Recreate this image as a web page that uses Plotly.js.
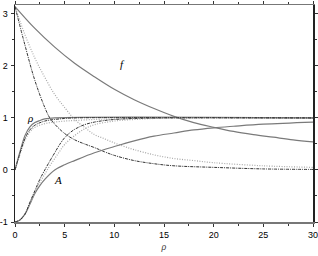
<!DOCTYPE html>
<html><head><meta charset="utf-8">
<script src="https://cdn.plot.ly/plotly-3.0.1.min.js"></script>
<style>html,body{margin:0;padding:0;background:#fff}#c{width:318px;height:256px}</style>
</head><body><div id="c"></div>
<script>
// f curves (start at pi)
const fSolidX = [0,2,4,6,8,10,12,14,16,18,20,22,24,26,28,30];
const fSolidY = [3.14,2.72,2.36,2.05,1.79,1.55,1.35,1.18,1.03,0.91,0.82,0.74,0.68,0.63,0.58,0.54];
const fDotX = [0,1,2,3,4,5,6,7,8,9,10,11,12,14,16,18,20,25,30];
const fDotY = [3.14,2.6,2.15,1.78,1.45,1.2,0.97,0.82,0.68,0.6,0.52,0.45,0.39,0.29,0.22,0.18,0.14,0.08,0.05];
const fDashX = [0,1,2,3,3.5,4,5,6,7,8,9,10,12,14,16,20,25,30];
const fDashY = [3.14,2.4,1.72,1.2,1.0,0.88,0.7,0.58,0.5,0.43,0.35,0.28,0.18,0.12,0.08,0.05,0.02,0.01];
// rho curves (start at 0)
const rSolidX = [0,0.5,1,1.5,2,2.5,3,4,30];
const rSolidY = [0,0.35,0.66,0.83,0.91,0.95,0.98,1.0,1.0];
const rDashX = [0,0.5,1,1.5,2,3,4,5,6,30];
const rDashY = [0,0.32,0.6,0.77,0.86,0.94,0.97,0.99,1.0,1.0];
const rDotX = [0,0.5,1,1.5,2,3,4,5,6,8,10,12,15,30];
const rDotY = [0,0.3,0.57,0.73,0.82,0.89,0.92,0.94,0.95,0.97,0.98,0.99,1.0,1.0];
// A curves (start at -1)
const aSolidX = [0,0.5,1,1.5,2,2.5,3,4,5,6,8,10,12,14,16,18,20,22,25,30];
const aSolidY = [-1,-0.96,-0.85,-0.66,-0.45,-0.3,-0.18,0.0,0.1,0.18,0.33,0.45,0.56,0.65,0.71,0.77,0.81,0.84,0.88,0.92];
const aDotX = [0,0.5,1,1.5,2,2.5,3,3.5,4,4.5,5,6,7,8,10,12,14,16,30];
const aDotY = [-1,-0.96,-0.85,-0.64,-0.43,-0.24,-0.08,0.08,0.22,0.36,0.49,0.66,0.79,0.87,0.94,0.97,0.99,1.0,1.0];
const aDashX = [0,0.5,1,1.5,2,2.5,3,3.5,4,4.5,5,5.5,6,7,8,9,10,12,15,30];
const aDashY = [-1,-0.96,-0.85,-0.62,-0.4,-0.18,0.0,0.17,0.33,0.49,0.62,0.71,0.78,0.87,0.92,0.95,0.97,0.99,1.0,1.0];
const xTicks = [0,5,10,15,20,25,30];
const yTicks = [-1,0,1,2,3];

const solid = {color:'#7a7a7a', width:1.2, shape:'spline'};
const dotted = {color:'#a8a8a8', width:1.2, dash:'1px,1.5px', shape:'spline'};
const dashdot = {color:'#333333', width:1, dash:'3px,1px,1px,1px', shape:'spline'};
function tr(x,y,line){return {x:x,y:y,mode:'lines',line:line,hoverinfo:'skip',showlegend:false};}
const data = [
  tr(fSolidX,fSolidY,solid), tr(fDotX,fDotY,dotted), tr(fDashX,fDashY,dashdot),
  tr(rSolidX,rSolidY,solid), tr(rDotX,rDotY,dotted), tr(rDashX,rDashY,dashdot),
  tr(aSolidX,aSolidY,solid), tr(aDotX,aDotY,dotted), tr(aDashX,aDashY,dashdot)
];
const axisCommon = {showgrid:false, zeroline:false, showline:true, linecolor:'#777', linewidth:1.5,
  mirror:'ticks', ticks:'outside', ticklen:3, tickcolor:'#333', tickwidth:1,
  ticklabeloverflow:'allow',
  tickfont:{family:'Liberation Sans, Arial', size:9, color:'#000'}};
const layout = {
  width:318, height:256, margin:{l:15,r:5,t:5,b:34},
  paper_bgcolor:'#fff', plot_bgcolor:'#fff',
  xaxis: Object.assign({}, axisCommon, {range:[0,30], tickvals:xTicks, ticktext:xTicks.map(String),
    minor:{dtick:2.5, ticklen:2, tickcolor:'#333', ticks:'outside'}, ticklabelstandoff:1,
    title:{text:'<i>ρ</i>', font:{family:'Liberation Serif', size:10}, standoff:3}}),
  yaxis: Object.assign({}, axisCommon, {range:[-1,3.17], tickvals:yTicks, ticktext:yTicks.map(String),
    linecolor:'#222', minor:{dtick:0.5, ticklen:2, tickcolor:'#333', ticks:'outside'}, ticklabelstandoff:1}),
  annotations:[
    {x:10.8,y:2.04,text:'<i>f</i>',showarrow:false,font:{family:'Liberation Serif',size:11,color:'#000'}},
    {x:1.5,y:1.0,text:'<i>ρ</i>',showarrow:false,font:{family:'Liberation Serif',size:11,color:'#000'}},
    {x:4.3,y:-0.2,text:'<i>A</i>',showarrow:false,font:{family:'Liberation Serif',size:11,color:'#000'}}
  ]
};
Plotly.newPlot('c', data, layout, {staticPlot:true, displayModeBar:false});
</script></body></html>
